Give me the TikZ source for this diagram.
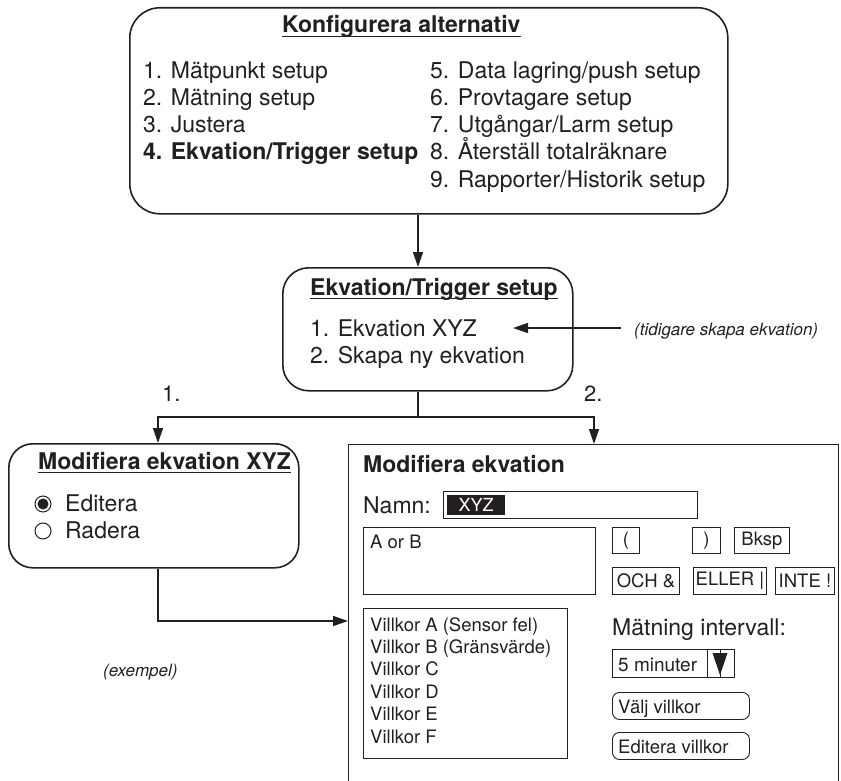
\documentclass[tikz,border=0pt]{standalone}
\usepackage{fontspec}
\setmainfont{TeX Gyre Heros}
\usetikzlibrary{arrows.meta}
\definecolor{ink}{RGB}{35,31,32}

\newcommand\fbig{\fontsize{23}{27}\selectfont}
\newcommand\fmid{\fontsize{18.5}{22}\selectfont}
\newcommand\fnote{\fontsize{17}{20}\selectfont\itshape}

\begin{document}
\begin{tikzpicture}[x=1pt,y=-1pt,
  every node/.style={text=ink},
  rbox/.style={draw=ink, line width=1.6pt, rounded corners=#1, inner sep=0pt, anchor=north west},
  frame/.style={draw=ink, line width=0.9pt, inner sep=0pt, anchor=north west},
  key/.style={draw=ink, line width=0.9pt, inner sep=0pt, anchor=north west, font=\fmid},
  pill/.style={draw=ink, line width=0.9pt, rounded corners=7pt, inner sep=0pt, anchor=north west},
  txt/.style={anchor=base west, inner sep=0pt, font=\fbig},
  small/.style={anchor=base west, inner sep=0pt, font=\fmid},
  head/.style={anchor=base west, inner sep=0pt, font=\fbig\bfseries},
  note/.style={anchor=base west, inner sep=0pt, font=\fnote},
  uline/.style={draw=ink, line width=1.5pt},
  conn/.style={draw=ink, line width=1.5pt},
  arr/.style={conn, -{Triangle[length=15pt,width=10pt]}},
  radio/.style={circle, draw=ink, line width=1pt, minimum size=16pt, inner sep=0pt}]

\useasboundingbox (0,0) rectangle (841,781);

% ---- Konfigurera alternativ ----
\node[rbox=30pt, minimum width=598pt, minimum height=206pt] (cfg) at (129,7) {};
\node[head] (cfgT) at (282,33) {Konfigurera alternativ};
\draw[uline] ([yshift=-3.5pt]cfgT.base west) -- ([yshift=-3.5pt]cfgT.base east);
\foreach \t [count=\i] in {1. Mätpunkt setup, 2. Mätning setup, 3. Justera}
  \node[txt] (ca\i) at (143,52+27*\i) {\t};
\node[head] (ca4) at (143,160) {4. Ekvation/Trigger setup};
\foreach \t [count=\i] in {5. Data lagring/push setup, 6. Provtagare setup,
    7. Utgångar/Larm setup, 8. Återställ totalräknare, 9. Rapporter/Historik setup}
  \node[txt] (cb\i) at (430,52+27*\i) {\t};

% ---- Ekvation/Trigger setup ----
\node[rbox=26pt, minimum width=290pt, minimum height=123pt] (et) at (282,267) {};
\node[head] (etT) at (310,295) {Ekvation/Trigger setup};
\draw[uline] ([yshift=-3.5pt]etT.base west) -- ([yshift=-3.5pt]etT.base east);
\node[txt] (et1) at (310,336) {1. Ekvation XYZ};
\node[txt] (et2) at (310,363) {2. Skapa ny ekvation};

\node[note] (tid) at (634,335) {(tidigare skapa ekvation)};
\coordinate (tipA) at (513,328);
\draw[arr] (tid.west |- tipA) ++(-13,0) -- (tipA);

% ---- Modifiera ekvation XYZ ----
\node[rbox=24pt, minimum width=290pt, minimum height=124pt] (mx) at (8,443) {};
\node[head] (mxT) at (38,469) {Modifiera ekvation XYZ};
\draw[uline] ([yshift=-3.5pt]mxT.base west) -- ([yshift=-3.5pt]mxT.base east);
\node[radio] (r1) at (43,504) {};
\fill[ink] (r1.center) circle[radius=5.5pt];
\node[txt] (mx1) at (65,511) {Editera};
\node[radio] (r2) at (43,531) {};
\node[txt] (mx2) at (65,538) {Radera};

\node[note] (ex) at (103,676) {(exempel)};

% ---- Modifiera ekvation ----
\node[draw=ink, line width=1.4pt, inner sep=0pt, anchor=north west,
      minimum width=490pt, minimum height=420pt] (me) at (348,444) {};
\node[head] (meT) at (363,472) {Modifiera ekvation};
\node[txt] (namn) at (363,513) {Namn:};
\node[frame, minimum width=254pt, minimum height=27pt] (nf) at (443,491) {};
\node[fill=ink, text=white, anchor=north west, inner sep=0pt,
      minimum width=58pt, minimum height=20pt, font=\fontsize{18}{20}\selectfont] (xyz) at (447,495) {XYZ};

\node[frame, minimum width=232pt, minimum height=67pt] (expr) at (363,527) {};
\node[small] (exprT) at (370,548) {A or B};

\node[key, minimum width=27pt, minimum height=26pt] (kl) at (612,527) {(};
\node[key, minimum width=28pt, minimum height=26pt] (kr) at (692,527) {)};
\node[key, minimum width=55pt, minimum height=26pt] (kb) at (734,527) {Bksp};
\node[key, minimum width=67pt, minimum height=27pt] (ko) at (612,567) {OCH \&};
\node[key, minimum width=73pt, minimum height=27pt] (ke) at (693,567) {ELLER |};
\node[key, minimum width=59pt, minimum height=27pt] (kn) at (775,567) {INTE !};

\node[frame, minimum width=204pt, minimum height=150pt] (vl) at (363,608) {};
\foreach \t [count=\i] in {Villkor A (Sensor fel), Villkor B (Gränsvärde), Villkor C,
    Villkor D, Villkor E, Villkor F}
  \node[small] (v\i) at (370,608.6+22.4*\i) {\t};

\node[txt] (mi) at (612,635) {Mätning intervall:};
\node[frame, minimum width=122pt, minimum height=28pt] (dd) at (612,649) {};
\node[anchor=base west, inner sep=0pt, font=\fontsize{19}{22}\selectfont] (ddT) at (618,671) {5 minuter};
\draw[ink, line width=0.9pt] (707,649) -- (707,677);
\draw[ink, line width=1pt] (720,649) -- (720,677);
\fill[ink] (712.5,653) -- (727.5,653) -- (720,675) -- cycle;

\node[pill, minimum width=137pt, minimum height=27pt] (vv) at (612,692) {};
\node[small] (vvT) at (618,713) {Välj villkor};
\node[pill, minimum width=137pt, minimum height=27pt] (ev) at (612,732) {};
\node[small] (evT) at (618,753) {Editera villkor};

% ---- connectors ----
\coordinate (br) at (418,417);
\coordinate (aL) at (158,417);
\coordinate (aR) at (594,417);
\coordinate (cL) at (158,621);
\draw[arr] (cfg.south -| br) -- (et.north -| br);
\draw[conn] (et.south -| br) -- (br);
\draw[arr] (br) -- (aL) -- (aL |- mx.north);
\draw[arr] (br) -- (aR) -- (aR |- me.north);
\draw[arr] (mx.south -| cL) -- (cL) -- (cL -| me.west);

\node[anchor=base west, inner sep=0pt, font=\fontsize{22}{26}\selectfont] (n1) at (162,401) {1.};
\node[anchor=base west, inner sep=0pt, font=\fontsize{22}{26}\selectfont] (n2) at (584,401) {2.};
\end{tikzpicture}
\end{document}
